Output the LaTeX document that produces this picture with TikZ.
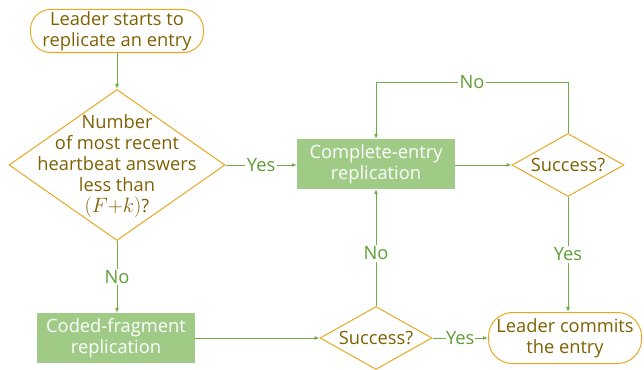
\documentclass[tikz,border=0pt]{standalone}
\usepackage{fontspec}
\setmainfont{Open Sans}
\usetikzlibrary{shapes.geometric,arrows.meta}
\definecolor{gold}{HTML}{E9A823}
\definecolor{txtbrown}{HTML}{7F6000}
\definecolor{boxgreen}{HTML}{A0CB87}
\definecolor{linegreen}{HTML}{70AD47}
\definecolor{lblgreen}{HTML}{5E9E35}
\tikzset{
  every node/.style={font=\fontsize{18.3}{21}\selectfont},
  pill/.style={draw=gold, line width=1pt, rounded corners=20pt, text=txtbrown, align=center, inner sep=0pt},
  dia/.style={draw=gold, line width=1pt, diamond, inner sep=0pt},
  dtext/.style={text=txtbrown, align=center, inner sep=0pt},
  gbox/.style={fill=boxgreen, text=white, align=center, inner sep=0pt},
  conn/.style={draw=linegreen, line width=0.9pt, -{Latex[length=5pt,width=4pt]}},
  lbl/.style={fill=white, text=lblgreen, inner sep=1.5pt}
}
\begin{document}
\begin{tikzpicture}[x=1pt,y=-1pt]
\path[use as bounding box] (0,0) rectangle (644,369);
% nodes
\node[pill, minimum width=173pt, minimum height=43pt] (start) at (117,31) {Leader starts to\\replicate an entry};
\node[dia, minimum width=216pt, minimum height=151pt] (q1) at (117,165) {};
\node[dtext] (q1t) at (117,166) {Number\\of most recent\\heartbeat answers\\less than\\{\fontsize{21.5}{21}\selectfont$(F{+}k)$}?};
\node[gbox, minimum width=158pt, minimum height=50pt] (full) at (376,164) {Complete-entry\\replication};
\node[dia, minimum width=112pt, minimum height=63pt] (s1) at (568,165) {};
\node[dtext] at (s1) {Success?};
\node[gbox, minimum width=158pt, minimum height=50pt] (frag) at (116,338) {Coded-fragment\\replication};
\node[dia, minimum width=112pt, minimum height=63pt] (s2) at (376,338) {};
\node[dtext] at (s2) {Success?};
\node[pill, minimum width=153pt, minimum height=51pt, rounded corners=24pt] (commit) at (565,338) {Leader commits\\the entry};
\coordinate (lt) at (376,82);
\coordinate (rt) at (568,82);
% connectors
\draw[conn] (start) -- (q1);
\draw[conn] (q1.east) -- node[lbl]{Yes} (q1.east -| full.west);
\draw[conn] (full.east |- s1.west) -- (s1.west);
\draw[conn] (s1.north) -- (rt) -- node[lbl]{No} (lt) -- (full.north);
\draw[conn] (s1.south) -- node[lbl, pos=0.5]{Yes} (s1.south |- commit.north);
\draw[conn] (q1.south) -- node[lbl, pos=0.5]{No} (q1.south |- frag.north);
\draw[conn] (frag.east) -- (frag.east -| s2.west);
\draw[conn] (s2.north) -- node[lbl, pos=0.45]{No} (full.south);
\draw[conn] (s2.east) -- node[lbl, inner sep=0.5pt]{Yes} (commit.west);
\end{tikzpicture}
\end{document}
